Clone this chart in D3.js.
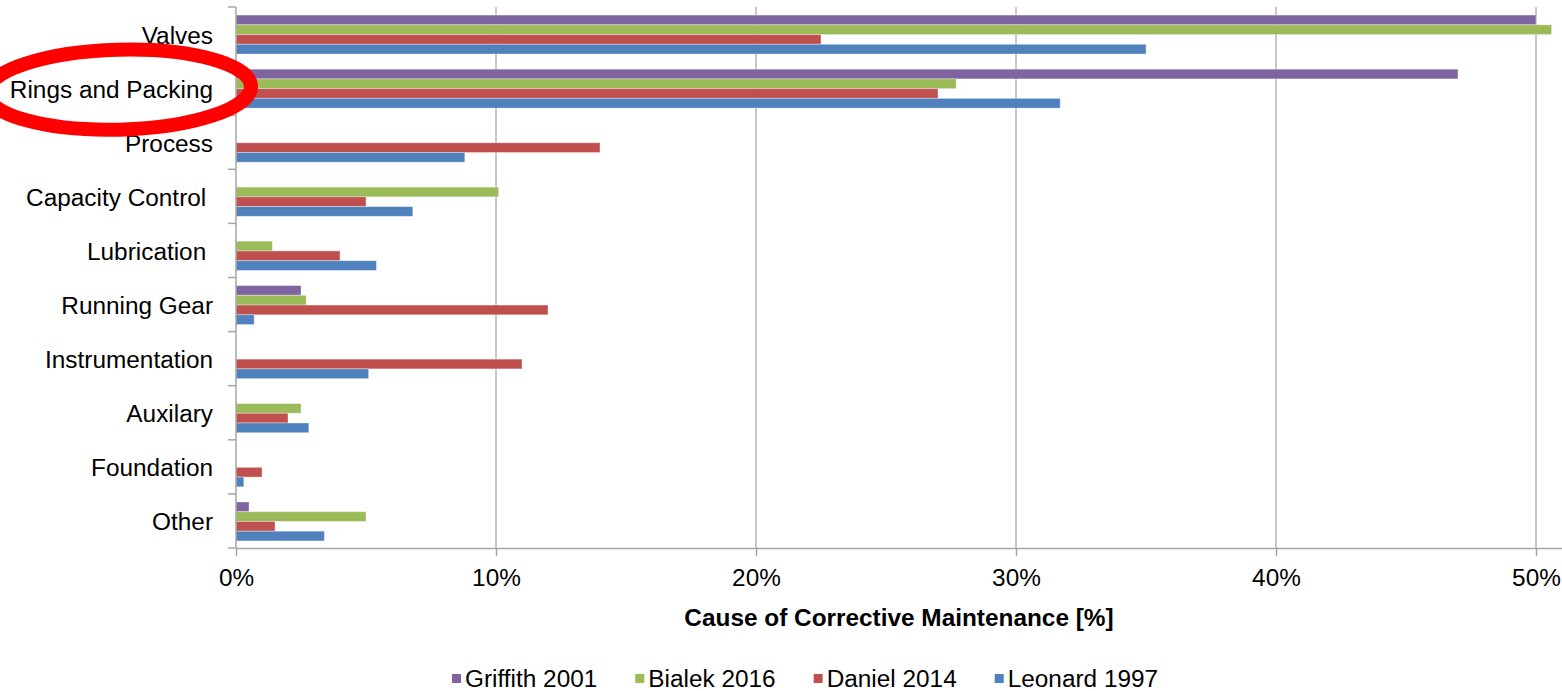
<!DOCTYPE html>
<html>
<head>
<meta charset="utf-8">
<script src="https://cdn.jsdelivr.net/npm/d3@7"></script>
<style>
  html, body { margin: 0; padding: 0; background: #fff; }
  svg { display: block; font-family: "Liberation Sans", Arial, sans-serif; }
  text { white-space: pre; }
</style>
</head>
<body>
<svg id="chart" width="1562" height="691"></svg>
<script>
// Causes of corrective maintenance on reciprocating compressors, by source
const categories = ['Valves', 'Rings and Packing', 'Process', 'Capacity Control ', 'Lubrication ',
                    'Running Gear', 'Instrumentation', 'Auxilary', 'Foundation', 'Other'];
const seriesNames = ['Griffith 2001', 'Bialek 2016', 'Daniel 2014', 'Leonard 1997'];
const griffith = [50.0, 47.0, null, null, null, 2.5, null, null, null, 0.5];
const bialek   = [50.6, 27.7, null, 10.1, 1.4, 2.7, null, 2.5, null, 5.0];
const daniel   = [22.5, 27.0, 14.0, 5.0, 4.0, 12.0, 11.0, 2.0, 1.0, 1.5];
const leonard  = [35.0, 31.7, 8.8, 6.8, 5.4, 0.7, 5.1, 2.8, 0.3, 3.4];
const xTicks = [0, 10, 20, 30, 40, 50];
const xTitle = 'Cause of Corrective Maintenance [%]';
const colors = ['#8064A2', '#9BBB59', '#C0504D', '#4F81BD'];

const seriesValues = [griffith, bialek, daniel, leonard];
const rows = [];
categories.forEach((c, i) => {
  seriesNames.forEach((s, j) => {
    if (seriesValues[j][i] != null) rows.push({ cat: c, series: s, value: seriesValues[j][i], color: colors[j] });
  });
});

const svg = d3.select('#chart');
const plotLeft = 236, plotRight = 1562, plotTop = 7, plotBottom = 548;
const FONT = 23, SX = 1.06;   // label font size and horizontal stretch
const axisColor = '#A6A6A6';

const x = d3.scaleLinear().domain([0, 51]).range([plotLeft, plotRight]);
const y = d3.scaleBand().domain(categories).range([plotTop, plotBottom]).paddingInner(0.28).paddingOuter(0.14);
const ySub = d3.scaleBand().domain(seriesNames).range([0, y.bandwidth()]);

// vertical gridlines
svg.append('g').selectAll('line').data(xTicks.filter(d => d > 0)).join('line')
  .attr('x1', d => x(d)).attr('x2', d => x(d))
  .attr('y1', plotTop).attr('y2', plotBottom)
  .attr('stroke', '#B4B4B4').attr('stroke-width', 1.5);

// bars
svg.append('g').selectAll('rect').data(rows).join('rect')
  .attr('x', x(0))
  .attr('y', d => y(d.cat) + ySub(d.series) + 0.5)
  .attr('width', d => x(d.value) - x(0))
  .attr('height', ySub.bandwidth())
  .attr('fill', d => d.color)
  .attr('stroke', '#ffffff').attr('stroke-opacity', 0.35).attr('stroke-width', 1);

// x axis
const xAxis = svg.append('g').attr('transform', `translate(0,${plotBottom})`)
  .call(d3.axisBottom(x).tickValues(xTicks).tickFormat(d => d + '%').tickSize(8).tickSizeOuter(0));
xAxis.select('.domain').attr('stroke', axisColor).attr('stroke-width', 1.5);
xAxis.selectAll('.tick line').attr('stroke', axisColor).attr('stroke-width', 1.5);
xAxis.selectAll('.tick text')
  .attr('y', null).attr('dy', null)
  .attr('transform', `translate(0,38) scale(${SX},1)`)
  .attr('font-size', FONT).attr('fill', '#000');
xAxis.attr('font-family', null).attr('font-size', null);

// y axis: category labels, with boundary ticks between bands
const yAxis = svg.append('g').attr('transform', `translate(${plotLeft},0)`)
  .call(d3.axisLeft(y).tickSize(0).tickSizeOuter(0));
yAxis.select('.domain').remove();
yAxis.attr('font-family', null).attr('font-size', null);
yAxis.selectAll('.tick text')
  .attr('x', null).attr('dy', null)
  .attr('transform', `translate(-23,9.5) scale(${SX},1)`)
  .attr('font-size', FONT).attr('fill', '#000');

const step = y.step();
const boundaries = d3.range(categories.length + 1).map(i => plotTop + i * step);
const yLine = svg.append('g');
yLine.append('line').attr('x1', plotLeft).attr('x2', plotLeft).attr('y1', plotTop).attr('y2', plotBottom)
  .attr('stroke', axisColor).attr('stroke-width', 1.5);
yLine.selectAll('line.b').data(boundaries).join('line').attr('class', 'b')
  .attr('x1', plotLeft - 8).attr('x2', plotLeft).attr('y1', d => d).attr('y2', d => d)
  .attr('stroke', axisColor).attr('stroke-width', 1.5);

// axis title
svg.append('text')
  .attr('transform', `translate(${(plotLeft + plotRight) / 2},626) scale(${SX},1)`)
  .attr('text-anchor', 'middle').attr('font-size', FONT).attr('font-weight', 'bold')
  .text(xTitle);

// legend
const legend = svg.append('g');
let cx = 452;
seriesNames.forEach((s, j) => {
  const g = legend.append('g').attr('transform', `translate(${cx},0)`);
  g.append('rect').attr('x', 0).attr('y', 674).attr('width', 9).attr('height', 9).attr('fill', colors[j]);
  const t = g.append('text').attr('transform', `translate(13,687) scale(${SX},1)`)
    .attr('font-size', FONT).attr('fill', '#000').text(s);
  cx += 13 + t.node().getComputedTextLength() * SX + 38;
});

// highlight around the "Rings and Packing" label
const ringsY = y('Rings and Packing') + y.bandwidth() / 2;
svg.append('ellipse')
  .attr('cx', 119).attr('cy', ringsY + 1.5)
  .attr('rx', 132).attr('ry', 40)
  .attr('fill', 'none').attr('stroke', '#FF0000').attr('stroke-width', 14)
  .attr('transform', `rotate(-1.5,119,${ringsY})`);
</script>
</body>
</html>
